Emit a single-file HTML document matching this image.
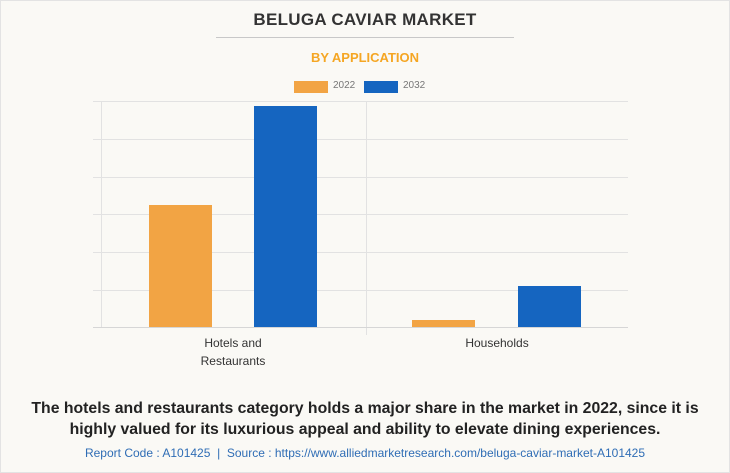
<!DOCTYPE html>
<html><head><style>
html,body{margin:0;padding:0}
body{width:730px;height:473px;background:#faf9f5;position:relative;overflow:hidden;font-family:"Liberation Sans",Arial,sans-serif}
.t{position:absolute;left:0;width:730px;text-align:center}
</style></head><body>
<div style="position:absolute;left:0;top:0;width:728px;height:471px;border:1px solid #e3e3e3"></div>
<div class="t" style="top:10px;font-size:17px;font-weight:bold;color:#333;letter-spacing:0.3px">BELUGA CAVIAR MARKET</div>
<div style="position:absolute;left:216px;top:37px;width:298px;height:1px;background:#c8c8c8"></div>
<div class="t" style="top:50px;font-size:13px;font-weight:bold;color:#f5a623">BY APPLICATION</div>
<div style="position:absolute;left:294px;top:81px;width:34px;height:12px;background:#f2a444"></div>
<div style="position:absolute;left:333px;top:80px;font-size:10px;color:#777">2022</div>
<div style="position:absolute;left:364px;top:81px;width:34px;height:12px;background:#1565c0"></div>
<div style="position:absolute;left:403px;top:80px;font-size:10px;color:#777">2032</div>
<svg style="position:absolute;left:0;top:0" width="730" height="473">
<g stroke="#e2e2e2" stroke-width="1">
<line x1="93" x2="628" y1="101.5" y2="101.5"/>
<line x1="93" x2="628" y1="139.5" y2="139.5"/>
<line x1="93" x2="628" y1="177.5" y2="177.5"/>
<line x1="93" x2="628" y1="214.5" y2="214.5"/>
<line x1="93" x2="628" y1="252.5" y2="252.5"/>
<line x1="93" x2="628" y1="290.5" y2="290.5"/>
<line x1="101.5" x2="101.5" y1="101" y2="327"/>
<line x1="366.5" x2="366.5" y1="101" y2="335"/>
</g>
<line x1="93" x2="628" y1="327.5" y2="327.5" stroke="#d6d6d6"/>
<rect x="149" y="205" width="63" height="122" fill="#f2a444"/>
<rect x="254" y="106" width="63" height="221" fill="#1565c0"/>
<rect x="412" y="320" width="63" height="7" fill="#f2a444"/>
<rect x="518" y="286" width="63" height="41" fill="#1565c0"/>
</svg>
<div style="position:absolute;left:173px;top:334px;width:120px;text-align:center;font-size:12px;line-height:18px;color:#333">Hotels and<br>Restaurants</div>
<div style="position:absolute;left:437px;top:334px;width:120px;text-align:center;font-size:12px;line-height:18px;color:#333">Households</div>
<div class="t" style="top:398px;font-size:15.8px;font-weight:bold;color:#222;line-height:21px">The hotels and restaurants category holds a major share in the market in 2022, since it is<br>highly valued for its luxurious appeal and ability to elevate dining experiences.</div>
<div class="t" style="top:446px;font-size:12px;color:#2f6db5">Report Code : A101425 &nbsp;| &nbsp;Source : https://www.alliedmarketresearch.com/beluga-caviar-market-A101425</div>
</body></html>
